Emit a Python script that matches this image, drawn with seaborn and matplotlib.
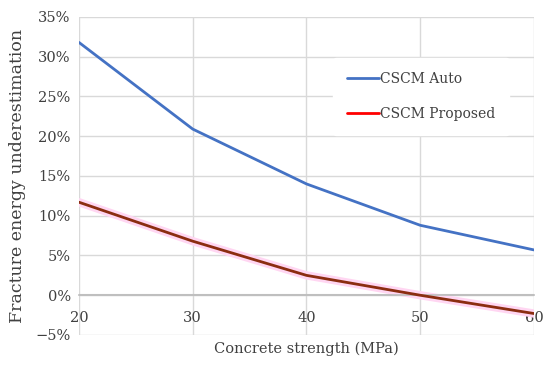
import numpy as np
import seaborn as sns
import pandas as pd
from matplotlib import pyplot as plt
from matplotlib.ticker import FuncFormatter

strength = [20, 30, 40, 50, 60]
cscm_auto = [31.8, 20.9, 14.0, 8.8, 5.7]
cscm_proposed = [11.7, 6.8, 2.5, 0.0, -2.3]

y_ticks = [-5, 0, 5, 10, 15, 20, 25, 30, 35]


def make_chart():
    sns.set_theme(style="white")
    plt.rcParams["font.family"] = ["DejaVu Serif"]
    text_color = "#404040"

    fig = plt.figure(figsize=(5.5, 3.7), dpi=100)
    ax = fig.add_axes([0.1436, 0.0946, 0.8273, 0.8595])

    df = pd.DataFrame({"strength": strength, "auto": cscm_auto, "proposed": cscm_proposed})

    # grid
    for y in y_ticks:
        ax.axhline(y, color="#d9d9d9", lw=1, zorder=0)
    for x in strength:
        ax.axvline(x, color="#d9d9d9", lw=1, zorder=0)
    ax.axhline(0, color="#bfbfbf", lw=1.5, zorder=1)

    sns.lineplot(data=df, x="strength", y="auto", ax=ax, color="#4472c4", lw=2,
                 label="CSCM Auto", zorder=3)
    # pink halo under the proposed line, as in the reference image
    sns.lineplot(data=df, x="strength", y="proposed", ax=ax, color="#ffd6f2", lw=6,
                 legend=False, zorder=2)
    sns.lineplot(data=df, x="strength", y="proposed", ax=ax, color="#8b2d10", lw=2,
                 legend=False, zorder=3)
    # legend proxy in bright red
    ax.plot([], [], color="#ff0000", lw=2, label="CSCM Proposed")

    ax.set_xlim(20, 60)
    ax.set_ylim(-5, 35)
    ax.set_yticks(y_ticks)
    ax.yaxis.set_major_formatter(FuncFormatter(lambda v, p: f"{int(v)}%".replace("-", "\u2212")))
    ax.set_xticks(strength)

    for s in ax.spines.values():
        s.set_visible(False)
    ax.spines["bottom"].set_visible(True)
    ax.spines["bottom"].set_position(("data", 0))
    ax.spines["bottom"].set_color("#bfbfbf")
    ax.tick_params(axis="both", length=0, labelsize=10.5, labelcolor=text_color)
    ax.tick_params(axis="x", pad=11)
    ax.tick_params(axis="y", pad=6)

    ax.set_xlabel("Concrete strength (MPa)", fontsize=10.5, color=text_color)
    ax.set_ylabel("Fracture energy underestimation", fontsize=12.5, color=text_color)
    ax.xaxis.set_label_coords(0.5, -0.02)
    ax.yaxis.set_label_coords(-0.116, 0.5)

    leg = ax.legend(loc="upper left", bbox_to_anchor=(0.558, 0.871), frameon=True,
                    fontsize=10, handlelength=2.3, handletextpad=0.1,
                    labelspacing=1.5, borderpad=1.0, borderaxespad=0)
    leg.get_frame().set_facecolor("white")
    leg.get_frame().set_edgecolor("white")
    leg.get_frame().set_alpha(1)
    for t in leg.get_texts():
        t.set_color(text_color)

    fig.savefig("out.png", dpi=100, facecolor="white")


def main():
    make_chart()


if __name__ == "__main__":
    main()
